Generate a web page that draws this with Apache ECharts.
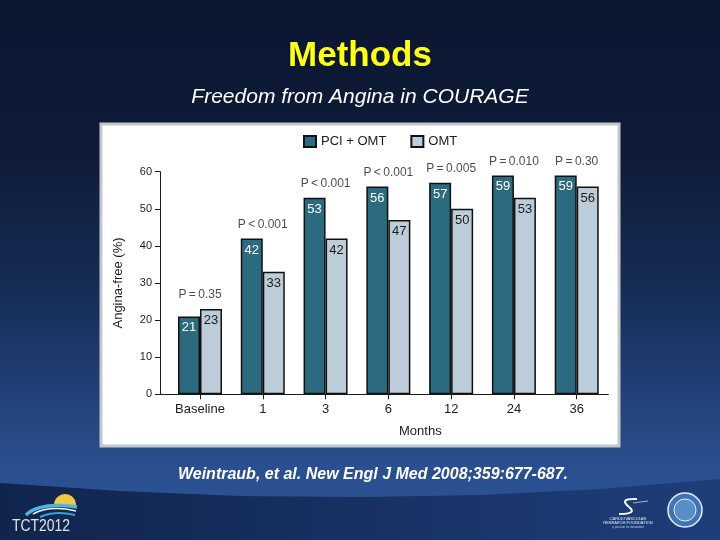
<!DOCTYPE html>
<html>
<head>
<meta charset="utf-8">
<script src="https://cdn.jsdelivr.net/npm/echarts@6/dist/echarts.min.js"></script>
<style>
html,body{margin:0;padding:0;background:#0b1731;}
#chart{width:720px;height:540px;}
</style>
</head>
<body>
<div id="chart"></div>
<script>
// ---- data ----
const categories = ['Baseline', '1', '3', '6', '12', '24', '36'];
const pciOmt = [21, 42, 53, 56, 57, 59, 59];
const omt = [23, 33, 42, 47, 50, 53, 56];
const pValues = ['P\u2009=\u20090.35', 'P\u2009<\u20090.001', 'P\u2009<\u20090.001', 'P\u2009<\u20090.001', 'P\u2009=\u20090.005', 'P\u2009=\u20090.010', 'P\u2009=\u20090.30'];
const seriesNames = ['PCI + OMT', 'OMT'];
const yMin = 0, yMax = 60, yStep = 10;

// ---- styling ----
const FONT = '"Liberation Sans", Arial, sans-serif';
const darkBar = '#2c6a80';
const lightBar = '#bccdd9';
const ink = '#1c1c1c';

const chart = echarts.init(document.getElementById('chart'), null, {renderer: 'canvas'});

const gridBox = {top: 171.7, bottom: 145.7, right: 111.9};

const option = {
  animation: false,
  textStyle: {fontFamily: FONT},
  graphic: [
    {type: 'rect', z: -10, silent: true, shape: {x: 0, y: 0, width: 720, height: 540},
      style: {fill: new echarts.graphic.LinearGradient(0, 0, 0, 1, [
        {offset: 0, color: '#0b1731'},
        {offset: 0.28, color: '#0e1b37'},
        {offset: 0.55, color: '#172d58'},
        {offset: 0.86, color: '#2a4f8f'},
        {offset: 1, color: '#2d5496'}
      ])}},
    {type: 'polygon', z: -9, silent: true,
      shape: {points: [[0, 483], [120, 491], [240, 496], [360, 497], [480, 495], [600, 489], [720, 479], [720, 540], [0, 540]]},
      style: {fill: new echarts.graphic.LinearGradient(0, 0, 1, 0, [
        {offset: 0, color: '#11244c'},
        {offset: 1, color: '#1e3e7a'}
      ])}},
    {type: 'rect', z: -8, silent: true, shape: {x: 101, y: 124, width: 518, height: 322},
      style: {fill: '#ffffff', stroke: '#c3c7cc', lineWidth: 3}},
    {type: 'text', silent: true, style: {x: 360, y: 56, text: 'Methods', align: 'center', verticalAlign: 'middle',
      font: 'bold 35px ' + FONT, fill: '#ffff1a'}},
    {type: 'text', silent: true, style: {x: 360, y: 97, text: 'Freedom from Angina in COURAGE', align: 'center', verticalAlign: 'middle',
      font: 'italic 21px ' + FONT, fill: '#ffffff'}},
    {type: 'text', silent: true, style: {x: 373, y: 475, text: 'Weintraub, et al. New Engl J Med 2008;359:677-687.', align: 'center', verticalAlign: 'middle',
      font: 'italic bold 16px ' + FONT, fill: '#ffffff'}},
    // TCT2012 logo
    {type: 'sector', silent: true, shape: {cx: 65, cy: 505, r: 11, startAngle: Math.PI * 0.95, endAngle: Math.PI * 2.05, clockwise: true}, style: {fill: '#f3c843'}},
    {type: 'bezierCurve', silent: true, shape: {x1: 26, y1: 515, cpx1: 40, cpy1: 502, x2: 77, y2: 507}, style: {stroke: '#55b3e3', lineWidth: 3.5, fill: null}},
    {type: 'bezierCurve', silent: true, shape: {x1: 33, y1: 514, cpx1: 50, cpy1: 505, x2: 76, y2: 511}, style: {stroke: '#e8f4fb', lineWidth: 1.5, fill: null}},
    {type: 'bezierCurve', silent: true, shape: {x1: 40, y1: 517, cpx1: 55, cpy1: 510, x2: 75, y2: 515}, style: {stroke: '#3b9fd6', lineWidth: 2, fill: null}},
    {type: 'text', silent: true, x: 12, y: 526, scaleX: 0.82, style: {x: 0, y: 0, text: 'TCT2012', align: 'left', verticalAlign: 'middle',
      font: '17px ' + FONT, fill: '#dfe5ef'}},
    // CRF logo
    {type: 'bezierCurve', silent: true, shape: {x1: 637, y1: 499, cpx1: 618, cpy1: 498, x2: 629, y2: 507}, style: {stroke: '#ffffff', lineWidth: 2, fill: null}},
    {type: 'bezierCurve', silent: true, shape: {x1: 629, y1: 507, cpx1: 638, cpy1: 514, x2: 619, y2: 514}, style: {stroke: '#ffffff', lineWidth: 2, fill: null}},
    {type: 'line', silent: true, shape: {x1: 633, y1: 503, x2: 648, y2: 501}, style: {stroke: '#c9d4e6', lineWidth: 0.8}},
    {type: 'text', silent: true, style: {x: 628, y: 519, text: 'CARDIOVASCULAR', align: 'center', verticalAlign: 'middle', font: '4px ' + FONT, fill: '#e6ecf5'}},
    {type: 'text', silent: true, style: {x: 628, y: 523, text: 'RESEARCH FOUNDATION', align: 'center', verticalAlign: 'middle', font: '4px ' + FONT, fill: '#e6ecf5'}},
    {type: 'text', silent: true, style: {x: 628, y: 527, text: 'a passion for innovation', align: 'center', verticalAlign: 'middle', font: 'italic 3px ' + FONT, fill: '#c9d4e6'}},
    // ACC seal
    {type: 'circle', silent: true, shape: {cx: 685, cy: 510, r: 17}, style: {fill: '#3f74b8', stroke: '#e8eef7', lineWidth: 1.5}},
    {type: 'circle', silent: true, shape: {cx: 685, cy: 510, r: 11}, style: {fill: '#5a8cc8', stroke: '#e8eef7', lineWidth: 1}}
  ],
  legend: {
    data: seriesNames,
    left: 303, top: 135, padding: 0,
    itemWidth: 12, itemHeight: 11, itemGap: 24,
    icon: 'rect',
    textStyle: {fontSize: 13, color: ink, fontFamily: FONT}
  },
  grid: [
    Object.assign({left: 168.6}, gridBox),
    Object.assign({left: 160}, gridBox)
  ],
  xAxis: [
    {type: 'category', gridIndex: 0, data: categories,
      axisLine: {show: true, lineStyle: {color: ink, width: 1}},
      axisTick: {show: true, alignWithLabel: true, interval: 0, length: 5, lineStyle: {color: ink}},
      axisLabel: {interval: 0, margin: 9, fontSize: 13, color: ink, fontFamily: FONT},
      name: 'Months', nameLocation: 'middle', nameGap: 31,
      nameTextStyle: {fontSize: 13, color: ink, padding: [0, 0, 0, 64], fontFamily: FONT}},
    {type: 'value', gridIndex: 1, min: 0, max: 1,
      axisLine: {show: true, onZero: false, lineStyle: {color: ink, width: 1}},
      axisTick: {show: false}, axisLabel: {show: false}, splitLine: {show: false}}
  ],
  yAxis: [
    {type: 'value', gridIndex: 0, min: yMin, max: yMax, interval: yStep, show: false},
    {type: 'value', gridIndex: 1, min: yMin, max: yMax, interval: yStep,
      axisLine: {show: true, lineStyle: {color: ink, width: 1}},
      axisTick: {show: true, length: 5, lineStyle: {color: ink}},
      axisLabel: {margin: 8, fontSize: 11, color: ink, fontFamily: FONT},
      splitLine: {show: false},
      name: 'Angina-free (%)', nameLocation: 'middle', nameGap: 35, nameRotate: 90,
      nameTextStyle: {fontSize: 13, color: ink, fontFamily: FONT}}
  ],
  series: [
    {name: seriesNames[0], type: 'bar', xAxisIndex: 0, yAxisIndex: 0, data: pciOmt,
      barWidth: 22, barGap: '0%',
      itemStyle: {color: darkBar, borderColor: '#111', borderWidth: 1.5},
      label: {show: true, position: 'insideTop', distance: 5, color: '#ffffff', fontSize: 13, fontFamily: FONT}},
    {name: seriesNames[1], type: 'bar', xAxisIndex: 0, yAxisIndex: 0, data: omt,
      barWidth: 22, barGap: '0%',
      itemStyle: {color: lightBar, borderColor: '#111', borderWidth: 1.5},
      label: {show: true, position: 'insideTop', distance: 5, color: ink, fontSize: 13, fontFamily: FONT}},
    {name: 'P', type: 'scatter', xAxisIndex: 0, yAxisIndex: 0, silent: true,
      symbolSize: 0,
      data: categories.map((c, i) => [i, Math.max(pciOmt[i], omt[i])]),
      label: {show: true, position: 'top', distance: 8, fontSize: 12, color: ink, fontFamily: FONT,
        formatter: p => pValues[p.dataIndex]}}
  ]
};
chart.setOption(option);
</script>
</body>
</html>
